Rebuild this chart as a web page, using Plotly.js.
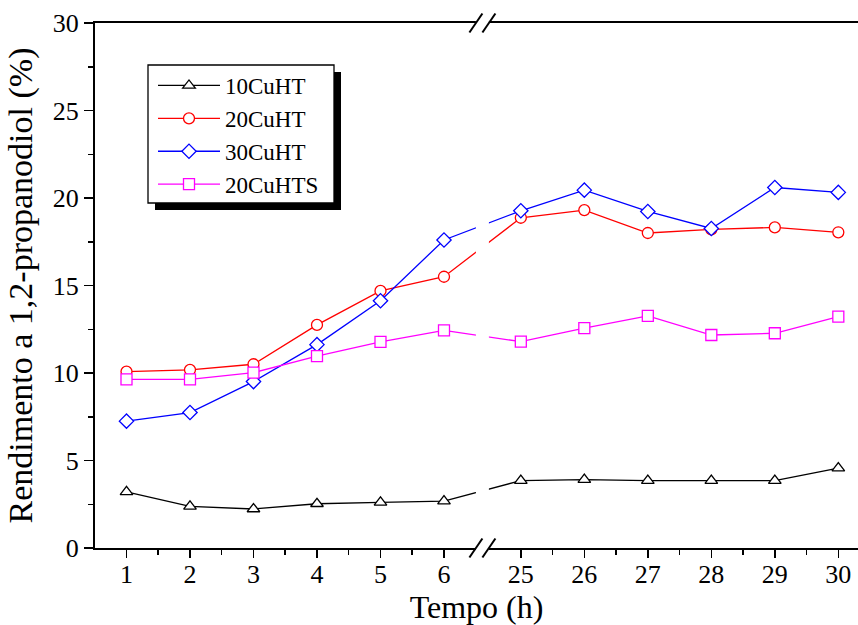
<!DOCTYPE html>
<html>
<head>
<meta charset="utf-8">
<script src="https://cdn.plot.ly/plotly-3.0.1.min.js"></script>
<style>html,body{margin:0;padding:0;background:#fff;} #chart{width:858px;height:625px;}</style>
</head>
<body>
<div id="chart"></div>
<script>
// ---- data ----
const hours = [1, 2, 3, 4, 5, 6, 25, 26, 27, 28, 29, 30];
const tickLabels = ["1", "2", "3", "4", "5", "6", "25", "26", "27", "28", "29", "30"];
const cu10HT  = [3.21, 2.38, 2.23, 2.53, 2.61, 2.68, 3.85, 3.91, 3.85, 3.85, 3.85, 4.57];
const cu20HT  = [10.08, 10.18, 10.50, 12.75, 14.69, 15.50, 18.87, 19.31, 18.00, 18.21, 18.32, 18.04];
const cu30HT  = [7.25, 7.74, 9.51, 11.62, 14.13, 17.60, 19.27, 20.45, 19.23, 18.26, 20.60, 20.32];
const cu20HTS = [9.64, 9.64, 10.02, 10.96, 11.78, 12.44, 11.79, 12.56, 13.26, 12.17, 12.27, 13.22];
const seriesNames = ["10CuHT", "20CuHT", "30CuHT", "20CuHTS"];

// ---- broken x axis: 1..6 then 25..30 ----
const BREAK_GAP = 1.21;              // axis units between 6 and 25
const pos = h => (h <= 6 ? h : h - 25 + 6 + BREAK_GAP);
const xs = hours.map(pos);
const XR = [0.504, 12.52];
const toPaper = p => (p - XR[0]) / (XR[1] - XR[0]);
const breakCenter = toPaper((6 + 6 + BREAK_GAP) / 2);

const minorVals = [];
[[1, 6], [25, 30]].forEach(([a, b]) => { for (let h = a; h < b; h++) minorVals.push(pos(h + 0.5)); });

const FONT = "Liberation Serif, Times New Roman, serif";

function tr(y, name, color, symbol) {
  return {
    x: xs, y: y, name: name, type: "scatter", mode: "lines+markers",
    line: {color: color, width: 1.3},
    marker: {symbol: symbol, size: 11, color: "#ffffff", line: {color: color, width: 1.3}},
    cliponaxis: false
  };
}

const data = [
  tr(cu10HT, seriesNames[0], "#000000", "triangle-up"),
  tr(cu20HT, seriesNames[1], "#ff0000", "circle"),
  tr(cu30HT, seriesNames[2], "#0000ff", "diamond"),
  tr(cu20HTS, seriesNames[3], "#ff00ff", "square")
];

// plot area geometry (pixels) for paper conversions
const L = 95, T = 23, W = 858 - 95, H = 625 - 23 - 77;
const px2x = p => (p - L) / W;
const px2y = p => 1 - (p - T) / H;

const shapes = [
  // white gap of the axis break
  {type: "rect", xref: "paper", yref: "paper",
   x0: breakCenter - 6.5 / W, x1: breakCenter + 6.5 / W, y0: -0.02, y1: 1.02,
   fillcolor: "#ffffff", line: {width: 0}, layer: "above"},
  // legend shadow
  {type: "rect", xref: "paper", yref: "paper",
   x0: px2x(155), x1: px2x(341), y0: px2y(210), y1: px2y(72),
   fillcolor: "#000000", line: {width: 0}, layer: "above"},
  // legend box
  {type: "rect", xref: "paper", yref: "paper",
   x0: px2x(148), x1: px2x(334), y0: px2y(203), y1: px2y(65),
   fillcolor: "#ffffff", line: {color: "#000000", width: 1.3}, layer: "above"}
];
[-6.5, 6.5].forEach(dx => {
  [0, 1].forEach(yy => {
    shapes.push({type: "line", xref: "paper", yref: "paper",
      xsizemode: "pixel", ysizemode: "pixel",
      xanchor: breakCenter, yanchor: yy,
      x0: dx - 6.5, x1: dx + 6.5, y0: -9.5, y1: 9.5,
      line: {color: "#000000", width: 2}, layer: "above"});
  });
});

const layout = {
  width: 858, height: 625,
  margin: {l: L, r: 0, t: T, b: 77},
  paper_bgcolor: "#ffffff", plot_bgcolor: "#ffffff",
  font: {family: FONT, color: "#000000", size: 26},
  showlegend: true,
  legend: {
    x: px2x(153), y: px2y(64), xanchor: "left", yanchor: "top",
    bgcolor: "rgba(0,0,0,0)", borderwidth: 0,
    font: {family: FONT, size: 23, color: "#000000"},
    itemwidth: 62, tracegroupgap: 0
  },
  xaxis: {
    range: XR, tickmode: "array", tickvals: xs, ticktext: tickLabels,
    showgrid: false, zeroline: false,
    showline: true, linecolor: "#000000", linewidth: 2, mirror: true,
    ticks: "outside", ticklen: 8, tickwidth: 1.5, tickcolor: "#000000",
    minor: {tickmode: "array", tickvals: minorVals, ticks: "outside", ticklen: 5, tickwidth: 1.5, tickcolor: "#000000", showgrid: false},
    tickfont: {family: FONT, size: 26},
    ticklabelstandoff: -6,
    title: {text: "Tempo (h)", font: {family: FONT, size: 32}, standoff: 13}
  },
  yaxis: {
    range: [0, 30], tickmode: "linear", tick0: 0, dtick: 5,
    showgrid: false, zeroline: false,
    showline: true, linecolor: "#000000", linewidth: 2, mirror: false,
    ticks: "outside", ticklen: 9, tickwidth: 1.5, tickcolor: "#000000",
    minor: {dtick: 2.5, ticks: "outside", ticklen: 5, tickwidth: 1.5, tickcolor: "#000000", showgrid: false},
    tickfont: {family: FONT, size: 26},
    title: {text: "Rendimento a 1,2-propanodiol (%)", font: {family: FONT, size: 34}, standoff: 10}
  },
  shapes: shapes
};

Plotly.newPlot("chart", data, layout, {staticPlot: true, displayModeBar: false});
</script>
</body>
</html>
